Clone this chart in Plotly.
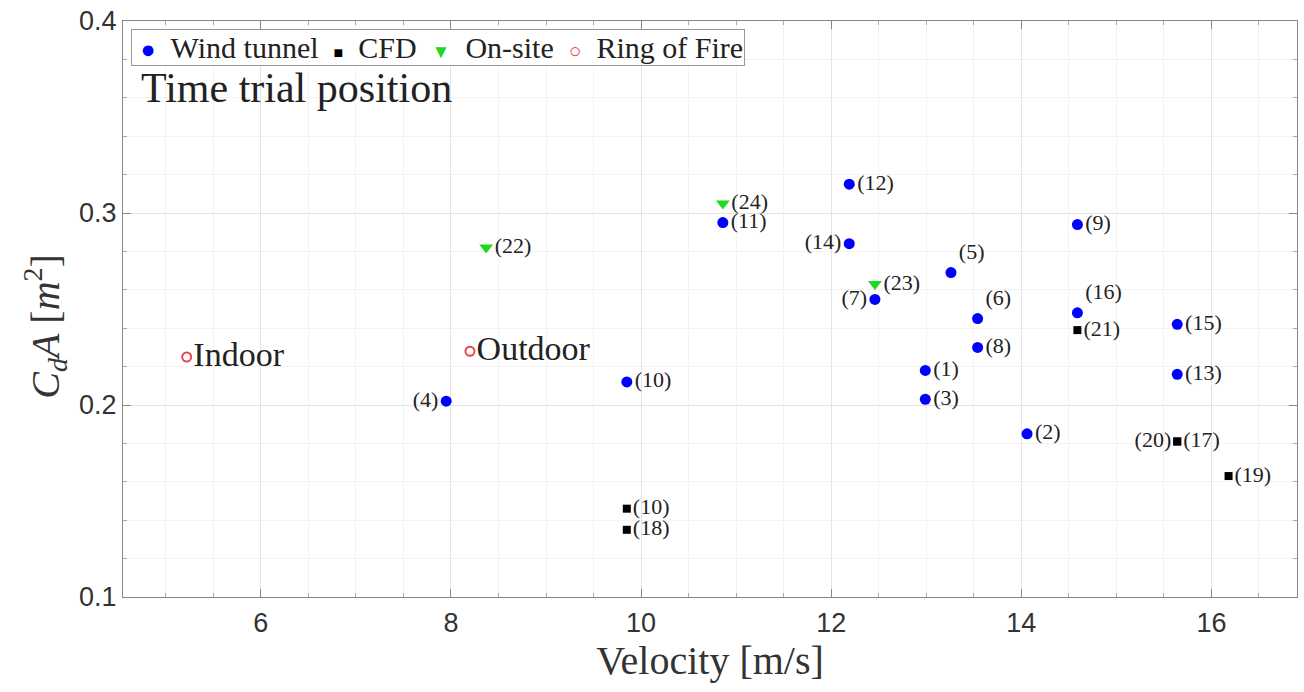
import plotly.graph_objects as go

# Wind tunnel measurements
wt_id = ["(1)", "(2)", "(3)", "(4)", "(5)", "(6)", "(7)", "(8)",
         "(9)", "(10)", "(11)", "(12)", "(13)", "(14)", "(15)", "(16)"]
wt_v = [12.99, 14.06, 12.99, 7.95, 13.26, 13.54, 12.46, 13.54,
        14.59, 9.85, 10.86, 12.19, 15.64, 12.19, 15.64, 14.59]
wt_cda = [0.218, 0.185, 0.203, 0.202, 0.269, 0.245, 0.255, 0.230,
          0.294, 0.212, 0.295, 0.315, 0.216, 0.284, 0.242, 0.248]
wt_pos = ["middle right", "middle right", "middle right", "middle left",
          "top right", "top right", "middle left", "middle right",
          "middle right", "middle right", "middle right", "middle right",
          "middle right", "middle left", "middle right", "top right"]

# CFD simulations
cfd_id = ["(10)", "(17)", "(18)", "(19)", "(20)", "(21)"]
cfd_v = [9.85, 15.64, 9.85, 16.18, 15.64, 14.59]
cfd_cda = [0.146, 0.181, 0.135, 0.163, 0.181, 0.239]
cfd_pos = ["middle right", "middle right", "middle right", "middle right",
           "middle left", "middle right"]

# On-site tests
os_id = ["(22)", "(23)", "(24)"]
os_v = [8.37, 12.46, 10.86]
os_cda = [0.282, 0.263, 0.305]

# Ring of Fire
rof_id = ["Indoor", "Outdoor"]
rof_v = [5.22, 8.20]
rof_cda = [0.225, 0.228]

# Series names and styles
series = ["Wind tunnel", "CFD", "On-site", "Ring of Fire"]
colors = ["#0000ff", "#000000", "#1fd81f", "#e8474f"]
glyphs = ["●", "■", "▼", "○"]
glyph_px = [25, 16, 19, 21]

SERIF = "Liberation Serif"
SANS = "Liberation Sans"
lab_font = dict(family=SERIF, size=22, color="#222")

fig = go.Figure()
fig.add_trace(go.Scatter(
    x=wt_v, y=wt_cda, text=wt_id, textposition=wt_pos, mode="markers+text",
    name=series[0], textfont=lab_font,
    marker=dict(symbol="circle", size=11, color=colors[0])))
fig.add_trace(go.Scatter(
    x=cfd_v, y=cfd_cda, text=cfd_id, textposition=cfd_pos, mode="markers+text",
    name=series[1], textfont=lab_font,
    marker=dict(symbol="square", size=8, color=colors[1])))
fig.add_trace(go.Scatter(
    x=os_v, y=os_cda, text=os_id, textposition="middle right", mode="markers+text",
    name=series[2], textfont=lab_font,
    marker=dict(symbol="triangle-down", size=12, color=colors[2])))
fig.add_trace(go.Scatter(
    x=rof_v, y=rof_cda, text=rof_id, textposition="middle right", mode="markers+text",
    name=series[3], textfont=dict(family=SERIF, size=34, color="#222"),
    marker=dict(symbol="circle-open", size=9, color=colors[3], line=dict(width=2))))

# Compact boxed key in the top-left corner
key_parts = []
for name, col, g, px in zip(series, colors, glyphs, glyph_px):
    key_parts.append(f'<span style="font-size:{px}px;color:{col}">{g}</span>&nbsp;&nbsp;{name}')
key_text = "&nbsp;" + "&nbsp;&nbsp;".join(key_parts)
fig.add_annotation(
    text=key_text, xref="paper", yref="paper",
    x=0.0068, y=0.986, xanchor="left", yanchor="top", showarrow=False,
    align="left", bgcolor="white", bordercolor="#999", borderwidth=1, borderpad=1,
    font=dict(family=SERIF, size=30, color="#222"))

fig.add_annotation(
    text="Time trial position", xref="paper", yref="paper",
    x=0.014, y=0.884, xanchor="left", yanchor="middle", showarrow=False,
    font=dict(family=SERIF, size=42, color="#222"))

# y-axis title, placed as rotated text left of the tick labels
fig.add_annotation(
    text="<i>C<sub>d</sub>A</i> [<i>m</i><sup>2</sup>]", xref="paper", yref="paper",
    x=-0.066, y=0.47, xanchor="center", yanchor="middle", showarrow=False,
    textangle=-90, font=dict(family=SERIF, size=40, color="#333"))

axis_common = dict(
    showline=True, linecolor="#888", linewidth=1, mirror="allticks",
    ticks="inside", ticklen=8, tickcolor="#888",
    tickfont=dict(family=SANS, size=27, color="#333"),
    showgrid=True, gridcolor="#e4e4e4", gridwidth=1, zeroline=False,
)

fig.update_xaxes(
    **axis_common, range=[4.55, 16.9], tickvals=[6, 8, 10, 12, 14, 16],
    ticklabelstandoff=2,
    minor=dict(dtick=0.5, ticks="inside", ticklen=4, tickcolor="#aaa",
               showgrid=True, gridcolor="#f3f3f3"),
    title=dict(text="Velocity [m/s]", font=dict(family=SERIF, size=40, color="#333"),
               standoff=8))
fig.update_yaxes(
    **axis_common, range=[0.1, 0.4], tickvals=[0.1, 0.2, 0.3, 0.4],
    minor=dict(dtick=0.02, ticks="inside", ticklen=4, tickcolor="#aaa",
               showgrid=True, gridcolor="#f3f3f3"))

fig.update_layout(
    width=1304, height=692,
    margin=dict(l=123, r=6, t=19, b=95),
    paper_bgcolor="white", plot_bgcolor="white",
    showlegend=False,
)

fig.write_html("out.html")
